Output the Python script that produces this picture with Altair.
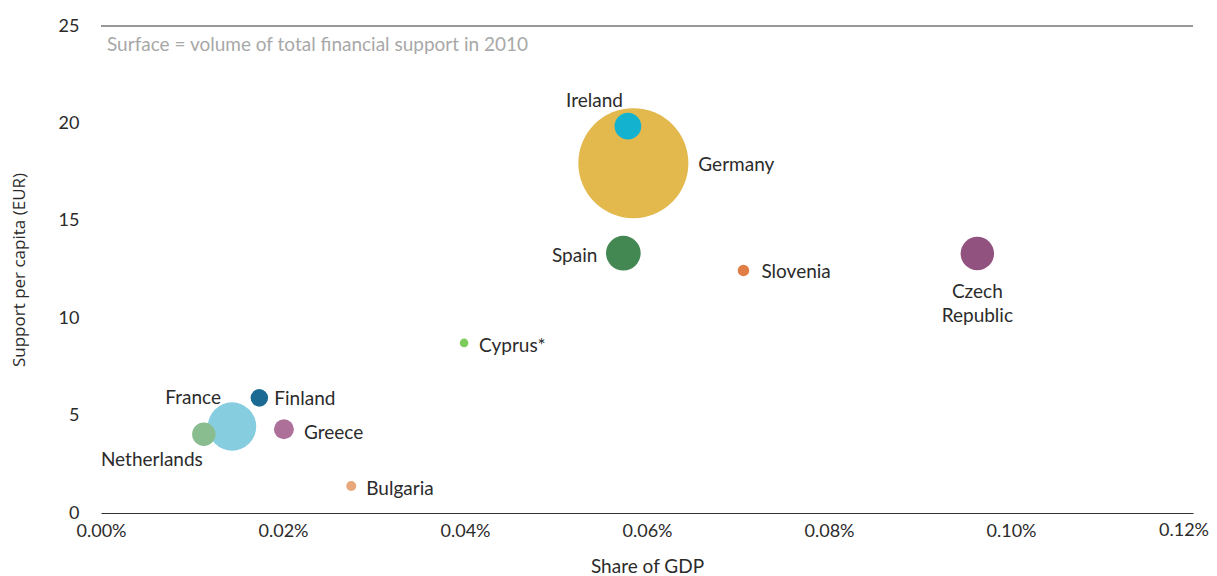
import altair as alt
import pandas as pd

# ---- data ----
countries = ["Germany", "France", "Ireland", "Spain", "Czech Republic", "Slovenia",
             "Cyprus*", "Finland", "Netherlands", "Greece", "Bulgaria"]
labels = ["Germany", "France", "Ireland", "Spain", "Czech\nRepublic", "Slovenia",
          "Cyprus*", "Finland", "Netherlands", "Greece", "Bulgaria"]
gdp_share_pct = [0.0585, 0.0144, 0.0579, 0.0574, 0.0963, 0.0706,
                 0.0399, 0.0174, 0.0113, 0.0201, 0.0275]
support_per_capita = [17.96, 4.44, 19.86, 13.34, 13.32, 12.45,
                      8.73, 5.91, 4.04, 4.30, 1.39]
total_support = [1462, 283, 86, 145, 135, 16, 9, 37, 66, 48, 12]
colors = ["#E3B94E", "#87CDE0", "#13B3D0", "#438753", "#92527F", "#E07E45",
          "#7CCB5C", "#1A6A93", "#89BC8E", "#AD7199", "#E8A87C"]

x_ticks = [0.0, 0.02, 0.04, 0.06, 0.08, 0.10, 0.12]
y_ticks = [0, 5, 10, 15, 20, 25]
note = "Surface = volume of total financial support in 2010"

df = pd.DataFrame({
    "country": countries,
    "label": labels,
    "gdp": gdp_share_pct,
    "pc": support_per_capita,
    "vol": total_support,
    "order": list(range(len(countries))),
})

# label placement (style): dx, dy, align
label_style = {
    "Germany": (65, 2, "left"),
    "France": (-11, -29, "right"),
    "Ireland": (-5, -25, "right"),
    "Spain": (-26, 3, "right"),
    "Czech Republic": (0, 38, "center"),
    "Slovenia": (18, 2, "left"),
    "Cyprus*": (15, 3, "left"),
    "Finland": (15, 1, "left"),
    "Netherlands": (-1, 26, "right"),
    "Greece": (20, 4, "left"),
    "Bulgaria": (15, 3, "left"),
}

FONT = "Lato"
TXT = "#2b2b2b"
last_tick = x_ticks[-1]
SIZE_K = 8.28  # px^2 of symbol bounding box per unit of total support

xenc = alt.X("gdp:Q",
             scale=alt.Scale(domain=[0, 0.12], nice=False, zero=True),
             axis=alt.Axis(values=x_ticks, title="Share of GDP",
                           labelExpr=f"datum.value > {last_tick - 0.001} ? '' : format(datum.value, '.2f') + '%'",
                           labelFlush=False,
                           domain=True, domainColor="#333333", domainWidth=1.2,
                           ticks=False, grid=False, labelPadding=9,
                           labelFontSize=18, labelColor=TXT, labelFont=FONT,
                           titleFont=FONT, titleFontSize=19, titleColor=TXT,
                           titleFontWeight="normal", titlePadding=17))
yenc = alt.Y("pc:Q",
             scale=alt.Scale(domain=[0, 25], nice=False),
             axis=alt.Axis(values=y_ticks, title="Support per capita (EUR)",
                           domain=False, ticks=False, grid=False, labelPadding=22,
                           labelFontSize=18, labelColor=TXT, labelFont=FONT,
                           titleFont="Open Sans", titleFontSize=17, titleColor=TXT,
                           titleFontWeight="normal", titlePadding=30))

points = alt.Chart(df).mark_circle(opacity=1).encode(
    x=xenc,
    y=yenc,
    size=alt.Size("vol:Q", scale=alt.Scale(domain=[0, 1500], range=[0, 1500 * SIZE_K]),
                  legend=None),
    color=alt.Color("country:N", scale=alt.Scale(domain=countries, range=colors),
                    legend=None),
    order=alt.Order("order:Q"),
)

top_rule = alt.Chart(pd.DataFrame({"y": [25]})).mark_rule(
    color="#333333", strokeWidth=1.2).encode(y=alt.Y("y:Q"))

note_layer = alt.Chart(pd.DataFrame({"t": [note]})).mark_text(
    align="left", baseline="middle", font=FONT, fontSize=19, color="#a8a8a8"
).encode(x=alt.value(6), y=alt.value(19), text="t:N")

# last x tick label, kept inside the canvas
last_label = alt.Chart(pd.DataFrame({"gdp": [last_tick],
                                     "t": [f"{last_tick:.2f}%"]})).mark_text(
    align="right", baseline="top", dx=16, dy=9, font=FONT, fontSize=18, color=TXT
).encode(x=alt.X("gdp:Q"), y=alt.value(487), text="t:N")

label_layers = []
for c in countries:
    dx, dy, al = label_style[c]
    label_layers.append(
        alt.Chart(df).transform_filter(alt.datum.country == c).mark_text(
            align=al, baseline="middle", dx=dx, dy=dy, font=FONT, fontSize=19,
            color=TXT, lineBreak="\n", lineHeight=24
        ).encode(x="gdp:Q", y="pc:Q", text="label:N")
    )

chart = alt.layer(top_rule, points, note_layer, last_label, *label_layers).properties(
    width=1092, height=487,
    autosize=alt.AutoSizeParams(type="none"),
    padding={"left": 93, "top": 18, "right": 16, "bottom": 63},
).configure_view(stroke=None)

chart.save("out.html", embed_options={"renderer": "svg", "actions": False})
